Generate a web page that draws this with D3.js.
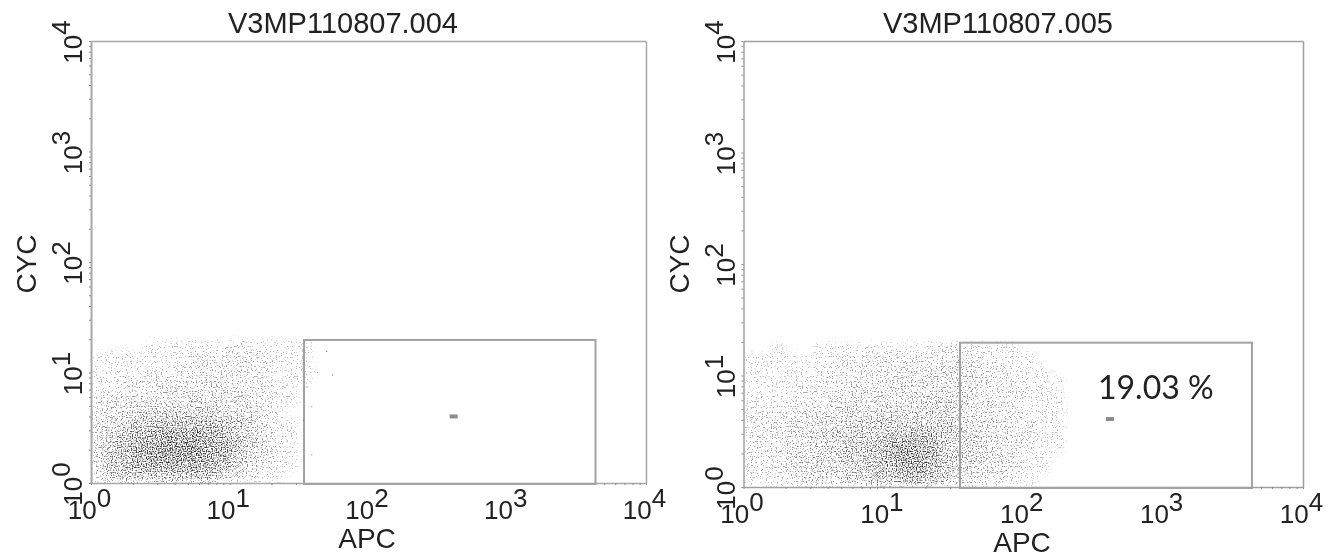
<!DOCTYPE html>
<html>
<head>
<meta charset="utf-8">
<script src="https://cdn.jsdelivr.net/npm/d3@7"></script>
<style>
html, body { margin: 0; background: #fff; }
svg { display: block; filter: blur(0.55px); }
text { font-family: "Liberation Sans", Arial, sans-serif; fill: #222; }
</style>
</head>
<body>
<div id="chart"></div>
<script>
// values
var titles = ["V3MP110807.004", "V3MP110807.005"];
var decades = [1, 10, 100, 1000, 10000];
var decadeExp = ["0", "1", "2", "3", "4"];
var gateLeft = [34.3, 4325, 0.98, 19.7];
var gateRight = [35.3, 4315, 0.98, 19.7];
var markerLeft = [411, 4.0];
var markerRight = [417, 4.07];
var percentLabel = "19.03 %";

// stray events inside the left gate
var strayX = [50, 43, 55, 36, 39, 39, 34];
var strayY = [15.5, 10, 9.5, 7.4, 4.9, 1.8, 3.7];

// event density per 0.1 x 0.1 log bin, rows from the top (y 1.2-1.3) to the bottom (y 0-0.1)
var binsLeft = [
  [0,0,0,0,1,1,1,1,1,1,2,1,1,1,1,1,0,0],
  [1,1,1,1,1,1,1,2,2,2,2,2,2,1,1,1,0,0],
  [1,1,1,1,1,1,2,2,2,2,2,2,2,1,1,1,0,0],
  [1,1,2,2,2,2,2,2,3,2,2,2,2,1,1,1,0,0],
  [2,2,2,2,2,3,3,3,3,3,3,2,2,1,1,0,0,0],
  [2,2,3,3,3,3,3,4,3,3,3,3,2,1,1,0,0,0],
  [2,3,3,4,4,4,4,4,4,4,3,3,2,1,0,0,0,0],
  [3,3,4,5,5,6,6,6,6,5,5,4,3,1,1,0,0,0],
  [3,4,5,6,7,7,7,7,7,6,5,4,3,2,1,0,0,0],
  [3,5,6,7,7,8,8,8,7,7,6,4,3,2,1,0,0,0],
  [3,5,6,7,8,8,8,8,7,7,5,4,3,2,1,0,0,0],
  [3,5,6,7,7,7,7,7,7,6,5,3,2,1,1,0,0,0],
  [3,4,5,5,5,5,5,6,5,4,3,2,1,1,0,0,0,0]
];
var binsRight = [
  [0,0,1,0,0,1,1,1,1,1,1,1,1,2,2,2,2,1,1,1,0,0,0,0,0,0,0],
  [1,1,1,1,1,1,1,2,2,2,2,2,2,2,2,3,2,2,1,1,1,0,0,0,0,0,0],
  [1,1,1,1,1,1,2,2,2,2,2,3,3,3,3,3,3,2,2,1,1,1,0,0,0,0,0],
  [1,1,1,1,1,2,2,2,2,3,3,3,3,3,3,3,3,2,2,2,1,1,1,0,0,0,0],
  [1,1,1,1,2,2,2,3,3,3,3,3,3,3,3,3,3,2,2,2,1,1,1,0,0,0,0],
  [1,1,1,2,2,2,3,3,3,3,3,3,3,4,4,3,3,3,2,2,1,1,1,0,0,0,0],
  [2,2,2,2,3,3,3,4,4,4,4,4,4,4,4,3,3,3,2,2,1,1,1,0,0,0,0],
  [2,2,2,3,3,4,4,4,4,5,5,5,5,5,5,4,3,3,2,2,2,1,1,0,0,0,0],
  [2,2,2,3,3,4,4,5,5,5,6,6,7,6,5,4,4,3,3,2,2,1,1,0,0,0,0],
  [2,2,2,3,3,4,4,5,5,6,7,8,7,7,5,4,4,3,3,2,2,1,1,0,0,0,0],
  [2,2,2,3,4,4,4,5,5,6,7,8,8,7,5,4,4,3,3,2,1,1,0,0,0,0,0],
  [2,2,2,3,3,4,4,4,5,6,6,7,7,6,5,4,3,3,3,2,1,1,0,0,0,0,0],
  [1,1,2,2,3,3,3,4,4,5,5,6,6,5,4,3,3,2,2,1,1,0,0,0,0,0,0]
];

var svg = d3.select("#chart").append("svg")
  .attr("width", 1342)
  .attr("height", 559);

// turns the smooth density into a speckle of dots
var grain = svg.append("defs").append("filter")
  .attr("id", "grain")
  .attr("filterUnits", "userSpaceOnUse")
  .attr("x", 0).attr("y", 0).attr("width", 1342).attr("height", 559)
  .attr("color-interpolation-filters", "sRGB");
grain.append("feGaussianBlur").attr("in", "SourceAlpha").attr("stdDeviation", 3.5).attr("result", "soft");
grain.append("feTurbulence").attr("type", "fractalNoise").attr("baseFrequency", 0.8)
  .attr("numOctaves", 1).attr("seed", 7).attr("result", "noise");
grain.append("feColorMatrix").attr("in", "noise").attr("type", "matrix")
  .attr("values", "0 0 0 0 0  0 0 0 0 0  0 0 0 0 0  0 0 0 3 -1.05").attr("result", "stretched");
grain.append("feComposite").attr("in", "soft").attr("in2", "stretched")
  .attr("operator", "arithmetic").attr("k1", 0).attr("k2", 1).attr("k3", 1).attr("k4", -1).attr("result", "sum");
var gain = grain.append("feComponentTransfer").attr("in", "sum").attr("result", "dots");
gain.append("feFuncA").attr("type", "linear").attr("slope", 1.35);
grain.append("feFlood").attr("flood-color", "#2a2a2a").attr("result", "ink");
grain.append("feComposite").attr("in", "ink").attr("in2", "dots").attr("operator", "in").attr("result", "inked");
grain.append("feGaussianBlur").attr("in", "inked").attr("stdDeviation", 0.4);

function drawPanel(p) {
  var x = d3.scaleLog().domain([1, 10000]).range([p.left, p.right]);
  var y = d3.scaleLog().domain([1, 10000]).range([p.bottom, p.top]);
  var shade = d3.scaleLinear().domain([1, 8]).range([0.24, 0.8]);
  var g = svg.append("g");

  svg.select("defs").append("clipPath").attr("id", p.id + "-clip")
    .append("rect")
    .attr("x", p.left).attr("y", p.top)
    .attr("width", p.right - p.left).attr("height", p.bottom - p.top);

  // density cells
  var rows = p.bins.length;
  var cells = [];
  p.bins.forEach(function(row, r) {
    row.forEach(function(v, c) {
      if (v > 0) cells.push({ c: c, r: rows - 1 - r, v: v });
    });
  });
  g.append("g")
    .attr("clip-path", "url(#" + p.id + "-clip)")
    .append("g")
    .attr("filter", "url(#grain)")
    .selectAll("rect")
    .data(cells)
    .join("rect")
    .attr("x", function(d) { return x(Math.pow(10, d.c / 10)); })
    .attr("y", function(d) { return y(Math.pow(10, (d.r + 1) / 10)); })
    .attr("width", function(d) { return x(Math.pow(10, (d.c + 1) / 10)) - x(Math.pow(10, d.c / 10)); })
    .attr("height", function(d) { return y(Math.pow(10, d.r / 10)) - y(Math.pow(10, (d.r + 1) / 10)); })
    .attr("fill-opacity", function(d) { return shade(d.v); });

  // frame and log ticks
  var minor = x.ticks();
  var axisStyle = function(sel, width) {
    sel.selectAll("path").attr("stroke", p.line).attr("stroke-width", width);
    sel.selectAll("line").attr("stroke", "#8a8a8a").attr("stroke-width", 1);
  };
  g.append("g").attr("transform", "translate(0," + p.bottom + ")")
    .call(d3.axisBottom(x).tickValues(minor).tickSize(2).tickSizeOuter(0).tickFormat(""))
    .call(axisStyle, 1.5);
  g.append("g").attr("transform", "translate(" + p.left + ",0)")
    .call(d3.axisLeft(y).tickValues(minor).tickSize(2).tickSizeOuter(0).tickFormat(""))
    .call(axisStyle, p.leftWidth);
  g.append("g").attr("transform", "translate(0," + p.top + ")")
    .call(d3.axisTop(x).tickValues([]).tickSizeOuter(0))
    .call(axisStyle, 1.5);
  g.append("g").attr("transform", "translate(" + p.right + ",0)")
    .call(d3.axisRight(y).tickValues([]).tickSizeOuter(0))
    .call(axisStyle, 1.5);

  // gate
  g.append("rect")
    .attr("x", x(p.gate[0])).attr("y", y(p.gate[3]))
    .attr("width", x(p.gate[1]) - x(p.gate[0]))
    .attr("height", y(p.gate[2]) - y(p.gate[3]))
    .attr("fill", "none").attr("stroke", "#a2a2a2").attr("stroke-width", 2);

  g.append("rect")
    .attr("x", x(p.marker[0]) - 4).attr("y", y(p.marker[1]) - 2)
    .attr("width", 8).attr("height", 4)
    .attr("fill", "#8c8c8c");

  // labels
  g.append("text")
    .attr("x", p.titleX).attr("y", 33)
    .attr("text-anchor", "middle").attr("font-size", 29)
    .text(p.title);

  decades.forEach(function(d, i) {
    var t = g.append("text")
      .attr("x", x(d) - 1.5).attr("y", p.bottom + 36)
      .attr("text-anchor", "middle").attr("font-size", 26);
    t.append("tspan").text("10");
    t.append("tspan").attr("dy", -12).text(decadeExp[i]);

    var s = g.append("text")
      .attr("transform", "translate(" + (p.left - 9) + "," + (y(d) + 1) + ") rotate(-90)")
      .attr("text-anchor", "middle").attr("font-size", 26);
    s.append("tspan").text("10");
    s.append("tspan").attr("dy", -12).text(decadeExp[i]);
  });

  g.append("text")
    .attr("x", p.apcX).attr("y", p.bottom + 65)
    .attr("text-anchor", "middle").attr("font-size", 28)
    .text("APC");
  g.append("text")
    .attr("transform", "translate(" + p.cycX + ",264) rotate(-90)")
    .attr("text-anchor", "middle").attr("font-size", 28)
    .text("CYC");
  return { g: g, x: x, y: y };
}

var a = drawPanel({
  id: "left", title: titles[0], bins: binsLeft, gate: gateLeft, marker: markerLeft,
  left: 91, right: 646, top: 41, bottom: 483, titleX: 343,
  apcX: 367, cycX: 36, line: "#a8a8a8", leftWidth: 2
});
var b = drawPanel({
  id: "right", title: titles[1], bins: binsRight, gate: gateRight, marker: markerRight,
  left: 743.5, right: 1303, top: 41, bottom: 487, titleX: 998,
  apcX: 1022, cycX: 689, line: "#a0a0a0", leftWidth: 1.5
});

a.g.selectAll(".stray")
  .data(strayX)
  .join("circle")
  .attr("class", "stray")
  .attr("cx", function(d) { return a.x(d); })
  .attr("cy", function(d, i) { return a.y(strayY[i]); })
  .attr("r", 0.6)
  .attr("fill", "#777");

b.g.append("text")
  .attr("x", 1098).attr("y", 399)
  .attr("font-size", 32)
  .style("font-family", "Lato, 'Open Sans', sans-serif")
  .text(percentLabel);
</script>
</body>
</html>
